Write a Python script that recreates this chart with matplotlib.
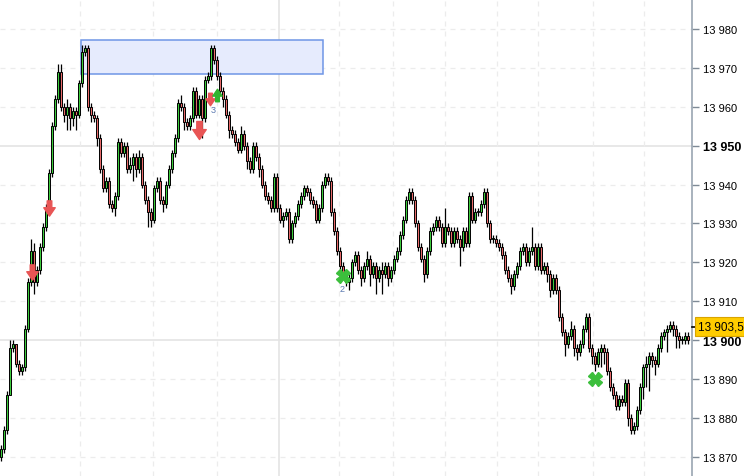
import matplotlib.pyplot as plt
from matplotlib.path import Path
from matplotlib.patches import Rectangle
from matplotlib.ticker import FixedLocator, FuncFormatter
import matplotlib.transforms as mtransforms

plt.rcParams['font.family'] = ['Liberation Sans', 'DejaVu Sans']

# price data (one candle per step, open = previous close)
first_open = 13870
closes = [
    13872, 13877, 13886, 13898, 13899, 13894, 13892, 13893, 13903, 13915,
    13923, 13915, 13918, 13924, 13929, 13934, 13943, 13955, 13962, 13969,
    13960, 13958, 13960, 13957, 13959, 13958, 13966, 13974, 13975, 13960,
    13958, 13957, 13952, 13944, 13939, 13941, 13935, 13934, 13937, 13951,
    13948, 13950, 13944, 13945, 13947, 13944, 13947, 13940, 13936, 13933,
    13931, 13939, 13941, 13936, 13935, 13940, 13944, 13948, 13952, 13961,
    13960, 13956, 13955, 13957, 13964, 13958, 13962, 13957, 13967, 13968,
    13975, 13972, 13968, 13964, 13962, 13958, 13954, 13953, 13951, 13949,
    13953, 13950, 13946, 13944, 13950, 13947, 13944, 13940, 13937, 13936,
    13934, 13942, 13934, 13931, 13932, 13933, 13926, 13930, 13932, 13935,
    13937, 13939, 13938, 13936, 13935, 13931, 13934, 13940, 13942, 13941,
    13933, 13928, 13923, 13919, 13917, 13915, 13916, 13920, 13922, 13918,
    13916, 13919, 13921, 13917, 13919, 13916, 13918, 13917, 13919, 13916,
    13918, 13921, 13923, 13927, 13931, 13936, 13938, 13936, 13930, 13924,
    13921, 13917, 13923, 13928, 13929, 13931, 13929, 13925, 13929, 13928,
    13925, 13928, 13926, 13924, 13928, 13925, 13937, 13931, 13933, 13933,
    13935, 13938, 13930, 13926, 13926, 13925, 13924, 13922, 13918, 13916,
    13914, 13917, 13919, 13923, 13924, 13920, 13923, 13924, 13919, 13924,
    13918, 13919, 13917, 13913, 13916, 13913, 13906, 13902, 13899, 13901,
    13903, 13898, 13897, 13899, 13903, 13906, 13898, 13896, 13894, 13897,
    13898, 13897, 13892, 13888, 13886, 13883, 13885, 13884, 13889, 13880,
    13877, 13878, 13882, 13888, 13893, 13894, 13896, 13895, 13894, 13898,
    13901, 13902, 13903, 13904, 13903, 13901, 13900, 13900, 13901, 13900,
]
wick_up = [
    1, 1, 1, 2, 1, 0, 1, 1, 1, 1,
    3, 2, 1, 1, 1, 1, 1, 1, 1, 2,
    2, 1, 2, 1, 1, 1, 1, 2, 1, 1,
    1, 1, 1, 1, 1, 1, 1, 1, 1, 1,
    1, 1, 1, 2, 1, 1, 2, 1, 1, 1,
    1, 1, 1, 1, 1, 1, 1, 1, 1, 1,
    2, 1, 1, 1, 1, 1, 1, 1, 1, 1,
    1, 1, 1, 1, 1, 1, 1, 1, 1, 1,
    2, 1, 1, 1, 1, 1, 1, 1, 1, 1,
    1, 1, 1, 1, 1, 1, 1, 1, 1, 1,
    1, 1, 1, 1, 1, 1, 1, 1, 1, 1,
    1, 1, 1, 1, 1, 1, 1, 1, 1, 1,
    1, 1, 2, 1, 1, 1, 1, 2, 1, 1,
    1, 1, 1, 1, 1, 1, 1, 1, 1, 1,
    1, 1, 1, 1, 1, 1, 1, 1, 5, 1,
    1, 1, 1, 1, 1, 1, 1, 1, 1, 1,
    1, 1, 1, 1, 1, 1, 1, 1, 1, 1,
    1, 1, 1, 1, 1, 1, 1, 5, 1, 1,
    1, 1, 1, 1, 1, 1, 1, 1, 1, 1,
    2, 1, 1, 1, 1, 1, 1, 1, 1, 1,
    1, 1, 1, 1, 1, 1, 1, 1, 1, 1,
    1, 1, 1, 1, 1, 2, 1, 1, 1, 1,
    1, 1, 1, 1, 1, 1, 1, 1, 1, 1,
]
wick_dn = [
    1, 1, 1, 0, 1, 1, 1, 1, 1, 1,
    1, 3, 1, 1, 1, 1, 1, 1, 1, 1,
    1, 2, 4, 3, 2, 4, 1, 1, 1, 1,
    2, 1, 2, 1, 1, 1, 1, 1, 2, 1,
    1, 1, 1, 1, 4, 2, 1, 1, 1, 4,
    2, 1, 1, 1, 2, 1, 1, 1, 1, 1,
    1, 2, 1, 1, 1, 1, 1, 5, 1, 1,
    1, 1, 1, 1, 2, 1, 2, 1, 1, 1,
    1, 1, 2, 1, 1, 1, 2, 1, 1, 1,
    1, 1, 1, 1, 2, 1, 1, 1, 1, 1,
    1, 1, 1, 1, 1, 1, 1, 1, 1, 1,
    1, 1, 1, 1, 1, 1, 2, 1, 1, 1,
    2, 1, 1, 3, 1, 4, 1, 5, 1, 2,
    1, 1, 1, 1, 1, 1, 1, 1, 1, 1,
    1, 2, 1, 1, 1, 1, 1, 1, 1, 1,
    1, 1, 1, 5, 1, 1, 1, 1, 1, 1,
    1, 1, 1, 1, 1, 1, 1, 1, 1, 1,
    2, 1, 1, 1, 1, 1, 1, 1, 1, 1,
    1, 1, 2, 2, 1, 1, 1, 1, 3, 1,
    1, 2, 2, 1, 1, 1, 1, 2, 2, 1,
    4, 3, 1, 1, 1, 1, 1, 1, 1, 2,
    1, 1, 1, 1, 3, 5, 7, 2, 3, 1,
    1, 1, 5, 1, 2, 3, 2, 1, 1, 1,
]

# signals (candle index, price)
down_arrows = [(10.3, 13917.5, 11), (16, 13934, 11), (66, 13954, 13), (69.7, 13962, 9)]
up_arrows = [(72, 13963, 9)]
crosses = [(114, 13916.5), (198, 13890)]
signal_labels = [(70.7, 13959.2, '3'), (113.7, 13913.2, '2')]
zone = (26.7, 107.3, 13968.4, 13977.2)
time_lines = [26.3, 50.7, 72, 112.7, 130.7, 148, 165.3, 179, 197.3, 214.3]
day_line = 92.7
last_price = 13903.5
y_ticks = list(range(13870, 13990, 10))

opens = [first_open] + closes[:-1]
idx = list(range(len(closes)))
highs = [max(o, c) + u for o, c, u in zip(opens, closes, wick_up)]
lows = [min(o, c) - d for o, c, d in zip(opens, closes, wick_dn)]
bottoms = [min(o, c) for o, c in zip(opens, closes)]
heights = [max(abs(c - o), 0.2) for o, c in zip(opens, closes)]
colors = ['#3ccc3c' if c >= o else '#e86a6a' for o, c in zip(opens, closes)]

fig = plt.figure(figsize=(7.44, 4.77), dpi=100)
ax = fig.add_axes([0, 0, 692 / 744, 1])

# grid
for t in y_ticks:
    if t in (13950, 13900):
        ax.axhline(t, color='#e4e4e4', lw=1.2, zorder=0)
    else:
        ax.axhline(t, color='#ececec', lw=0.9, ls=(0, (4, 4)), zorder=0)
for t in time_lines:
    ax.axvline(t, color='#ececec', lw=0.9, ls=(0, (4, 4)), zorder=0)
ax.axvline(day_line, color='#e4e4e4', lw=1.2, zorder=0)

# zone rectangle
ax.add_patch(Rectangle((zone[0], zone[2]), zone[1] - zone[0], zone[3] - zone[2],
                       facecolor='#e6ebfd', edgecolor='#6f96e6', lw=1.1, zorder=1))

# candles
ax.vlines(idx, lows, highs, color='black', lw=0.9, zorder=2)
ax.bar(idx, heights, bottom=bottoms, width=0.74, color=colors,
       edgecolor='black', linewidth=0.7, zorder=3)

# signal markers
down_path = Path([(-0.3, 1), (0.3, 1), (0.3, 0.1), (0.75, 0.1), (0, -1),
                  (-0.75, 0.1), (-0.3, 0.1), (-0.3, 1)], closed=True)
up_path = Path([(x, -y) for x, y in down_path.vertices], closed=True)
for x, p, s in down_arrows:
    ax.plot(x, p, marker=down_path, ms=s, color='#e85555', mec='#e85555', zorder=5)
for x, p, s in up_arrows:
    ax.plot(x, p, marker=up_path, ms=s, color='#2fb52f', mec='#2fb52f', zorder=5)
for x, p in crosses:
    ax.plot(x, p, marker='X', ms=10, color='#3cbf3c', mec='#3cbf3c', zorder=5)
for x, p, s in signal_labels:
    ax.text(x, p, s, fontsize=6.5, color='#5a78b0', ha='center', va='center', zorder=5)

ax.set_xlim(-0.33, 230.3)
ax.set_ylim(13865.1, 13987.7)

# right price axis
for side in ('left', 'top', 'bottom'):
    ax.spines[side].set_visible(False)
ax.spines['right'].set_color('#9aa6b2')
ax.spines['right'].set_linewidth(1.2)
ax.set_xticks([])
ax.yaxis.tick_right()
ax.yaxis.set_major_locator(FixedLocator(y_ticks))
ax.yaxis.set_major_formatter(FuncFormatter(lambda v, _: f"{int(v):,}".replace(',', ' ')))
ax.tick_params(axis='y', direction='out', length=5, width=1, color='#7f8a96',
               pad=3, labelsize=8)
for lab in ax.get_yticklabels():
    if lab.get_text() in ('13 950', '13 900'):
        lab.set_fontweight('bold')
        lab.set_fontsize(9)

# last price tag
trans = mtransforms.blended_transform_factory(ax.transAxes, ax.transData)
ax.plot([1.0, 1.008], [last_price, last_price], color='black', lw=1.2,
        transform=trans, clip_on=False, zorder=6)
ax.text(1.009, last_price, f"{last_price:,.1f}".replace(',', ' ').replace('.', ','),
        transform=trans, fontsize=8.5, va='center', ha='left', zorder=7,
        bbox=dict(boxstyle='square,pad=0.3', facecolor='#ffcc00', edgecolor='#d9a400', lw=0.8))

fig.savefig('out.png', dpi=100)
